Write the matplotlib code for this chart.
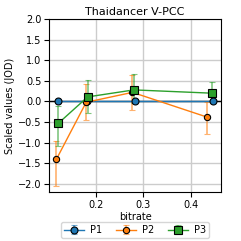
import matplotlib
matplotlib.use("Agg")
import matplotlib.pyplot as plt

title = "Thaidancer V-PCC"
series = ["P1", "P2", "P3"]
x_p1 = [0.120, 0.181, 0.283, 0.448]
y_p1 = [0.0, 0.0, 0.0, 0.0]
lo_p1 = [0.0, 0.0, 0.0, 0.0]
hi_p1 = [0.0, 0.0, 0.0, 0.0]
x_p2 = [0.116, 0.179, 0.277, 0.435]
y_p2 = [-1.40, -0.02, 0.22, -0.38]
lo_p2 = [-2.05, -0.45, -0.20, -0.78]
hi_p2 = [-0.95, 0.43, 0.65, -0.02]
x_p3 = [0.120, 0.182, 0.280, 0.446]
y_p3 = [-0.53, 0.11, 0.28, 0.20]
lo_p3 = [-1.08, -0.28, -0.05, 0.00]
hi_p3 = [-0.10, 0.52, 0.67, 0.48]

colors = ["#1f77b4", "#ff7f0e", "#2ca02c"]
markers = ["o", "o", "s"]
msizes = [5, 4.5, 5.5]

fig, ax = plt.subplots(figsize=(2.41, 2.41), dpi=100)
ax.grid(True, color="#cccccc", linewidth=1)
ax.set_axisbelow(True)
ax.axhline(0, color="black", linewidth=1)
data = [(x_p1, y_p1, lo_p1, hi_p1), (x_p2, y_p2, lo_p2, hi_p2), (x_p3, y_p3, lo_p3, hi_p3)]
for (xs, ys, lo, hi), name, c, m, ms in zip(data, series, colors, markers, msizes):
    yerr = [[y - l for y, l in zip(ys, lo)], [h - y for y, h in zip(ys, hi)]]
    eb = ax.errorbar(xs, ys, yerr=yerr, color=c, marker=m, markersize=ms,
                     markeredgecolor="black", markeredgewidth=0.8, linewidth=1,
                     elinewidth=1.2, capsize=2, ecolor=c, label=name)
    for art in eb[2]:
        art.set_alpha(0.6)
    for art in eb[1]:
        art.set_alpha(0.6)

ax.set_xlim(0.1, 0.465)
ax.set_ylim(-2.2, 2.0)
ax.set_xticks([0.2, 0.3, 0.4])
ax.set_yticks([-2.0, -1.5, -1.0, -0.5, 0.0, 0.5, 1.0, 1.5, 2.0])
ax.tick_params(labelsize=7, pad=2)
ax.set_title(title, fontsize=8, pad=3)
ax.set_xlabel("bitrate", fontsize=7, labelpad=2)
ax.set_ylabel("Scaled values (JOD)", fontsize=7, labelpad=2)
ax.legend(loc="upper center", bbox_to_anchor=(0.5, -0.145), ncol=3, fontsize=7,
          frameon=True, handlelength=2, columnspacing=1.5, borderpad=0.3,
          handletextpad=0.6)
fig.subplots_adjust(left=0.203, right=0.918, top=0.921, bottom=0.203)
fig.savefig("out.png", dpi=100)
